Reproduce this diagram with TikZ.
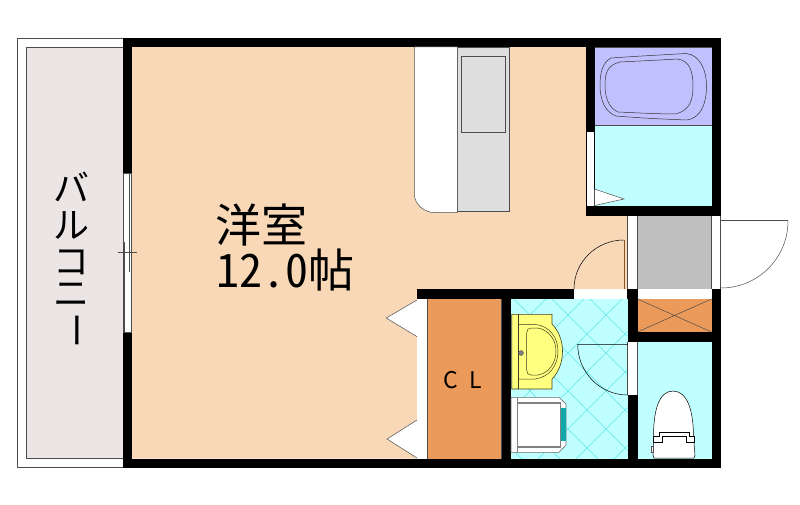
\documentclass[tikz,border=0pt]{standalone}
\usepackage{fontspec}
\newfontfamily\cjk{Noto Sans CJK JP}
\newfontfamily\cjkhw[RawFeature=+hwid]{Noto Sans CJK JP}
\pgfdeclarelayer{suelo}
\pgfsetlayers{suelo, main}
\definecolor{piso}{HTML}{F9D8B8}
\definecolor{agua}{HTML}{BFFFFF}
\definecolor{tina}{HTML}{C0C0FF}
\definecolor{ropero}{HTML}{EB9A5A}
\definecolor{balcon}{HTML}{EBE5E5}
\definecolor{cocina}{HTML}{DEDEDE}
\definecolor{entrada}{HTML}{BFBFBF}
\definecolor{lavabo}{HTML}{FFFF80}
\definecolor{teja}{HTML}{60E8E8}
\definecolor{lavadora}{HTML}{10A8A8}
\tikzstyle{muro}=[fill=black,draw=none]
\tikzstyle{hueco}=[fill=white,draw=none]
\tikzstyle{fino}=[draw=black!70,line width=0.6pt]
\tikzstyle{mueble}=[draw=black,line width=0.5pt]
\tikzstyle{grande}=[inner sep=0pt,font=\cjk\fontsize{46}{46}\selectfont]
\tikzstyle{balconia}=[inner sep=0pt,font=\cjk\fontsize{36}{36}\selectfont]
\begin{document}
\begin{tikzpicture}[x=1pt,y=-1pt]
		\useasboundingbox (0,0) rectangle (800,505);
		\begin{pgfonlayer}{suelo}
			\fill[piso] (132,47)--(586,47)--(586,216)--(627.5,216)--(627.5,289)--(417,289)--(417,458.5)--(132,458.5)--cycle;
			\filldraw[fill=white,fino] (17,38.5) rectangle (123,467.5);
			\filldraw[fill=balcon,fino] (26.7,47.3) rectangle (123,458.3);
			\fill[tina] (595,47) rectangle (711.5,125);
			\fill[agua] (595,125) rectangle (711.5,206);
			\fill[entrada] (637.5,216) rectangle (711.5,289);
			\fill[agua] (511,299) rectangle (627.5,458.5);
			\fill[agua] (637.5,341.5) rectangle (711.5,458.5);
			\fill[ropero] (427.5,299) rectangle (501.5,458.5);
			\fill[ropero] (637.5,299) rectangle (711.5,332);
			\begin{scope}
				\clip (511,299) rectangle (627.5,458.5);
				\foreach \d in {-6,...,8} {
					\draw[teja,line width=0.5pt] (552+\d*38,299)--(712+\d*38,459);
					\draw[teja,line width=0.5pt] (584+\d*38,299)--(424+\d*38,459);
				}
			\end{scope}
		\end{pgfonlayer}
		% muros
		\fill[muro] (123,38) rectangle (721,47);
		\fill[muro] (123,38) rectangle (132,468);
		\fill[muro] (586,47) rectangle (595,216);
		\fill[muro] (711.5,38) rectangle (721,216);
		\fill[muro] (586,206) rectangle (721,216);
		\fill[muro] (123,458.5) rectangle (721,468);
		\fill[muro] (711.5,289) rectangle (721,468);
		\fill[muro] (417,289) rectangle (637.5,299);
		\fill[muro] (501.5,299) rectangle (511,458.5);
		\fill[muro] (627.5,299) rectangle (637.5,458.5);
		\fill[muro] (627.5,332) rectangle (721,341.5);
		% huecos
		\fill[hueco] (123,173.5) rectangle (132,332);
		\fill[hueco] (586.7,132) rectangle (594.5,206);
		\fill[hueco] (627.5,216) rectangle (637.5,289);
		\fill[hueco] (711.5,216) rectangle (720,289);
		\fill[hueco] (574,289) rectangle (627,299);
		\fill[hueco] (637.5,289) rectangle (711.5,299);
		\fill[hueco] (417,299) rectangle (427.5,458.5);
		\fill[hueco] (627.5,341.5) rectangle (637.5,395);
		\draw[fino,line width=0.4pt] (627.5,216)--(627.5,289) (637.5,216)--(637.5,289) (711.5,216)--(711.5,289) (720.5,216)--(720.5,289);
		\draw[fino,line width=0.4pt] (627.5,341.5)--(627.5,395) (637.5,341.5)--(637.5,395);
		\draw[mueble] (594.5,132)--(594.5,206);
		% ventana
		\draw[fino] (123,173.5) rectangle (131.5,332);
		\draw[fino] (129,173.5)--(129,272);
		\draw[fino] (124.7,242)--(124.7,332);
		\draw[fino] (118,252.7)--(137,252.7);
		% cocina
		\filldraw[fill=cocina,fino] (457.3,47)--(509.3,47)--(509.3,211.7)--(457.3,211.7)--cycle;
		\filldraw[fill=white,draw=black!70,line width=0.5pt] (457.3,47)--(414.3,47)--(414.3,195) .. controls (415,205) and (425,212.7) .. (435,212.7)--(457.3,212.7)--cycle;
		\draw[fino] (461.3,56) rectangle (505.3,132.3);
		% banera
		\draw[fino,line width=0.8pt] (595,47.5)--(711.5,47.5);
		\draw[fino,line width=0.8pt] (595,125)--(711.5,125);
		\draw[draw=black!80,line width=0.5pt] (611,58) .. controls (640,56) and (660,55) .. (686,53.5) .. controls (700,55) and (706.5,70) .. (706.5,86) .. controls (706.5,105) and (700,118) .. (687,120) .. controls (660,119) and (640,118) .. (616,116) .. controls (605,112) and (600,100) .. (600,85) .. controls (600,72) and (603,62) .. (611,58)--cycle;
		\draw[draw=black!80,line width=0.5pt] (620,62) .. controls (640,61) and (660,60) .. (678,59) .. controls (690,61) and (693,72) .. (693,86) .. controls (693,100) and (690,110) .. (676,114) .. controls (660,114) and (640,113) .. (618,112) .. controls (609,108) and (605,98) .. (605,85) .. controls (605,72) and (608,65) .. (620,62)--cycle;
		% puertas
		\filldraw[fill=white,fino,line width=0.5pt] (594.5,189)--(624,199)--(594.5,205.5)--cycle;
		\draw[fino,draw=brown!70!black,line width=0.8pt] (624,240)--(624,289);
		\draw[mueble] (624,240) arc (270:180:50 and 49);
		\draw[fino,line width=0.5pt] (721,220.5)--(788,220.5);
		\draw[fino,line width=0.5pt] (788,221) arc (0:90:67 and 67);
		\draw[mueble] (627.5,344.3)--(577.7,344.3) arc (180:90:49.8 and 50.7);
		\filldraw[fill=white,fino,line width=0.5pt] (417,300)--(386.3,318)--(417,336.7);
		\filldraw[fill=white,fino,line width=0.5pt] (417,420)--(387,439)--(417,458);
		\draw[fino] (427.5,299)--(427.5,458.5);
		\draw[fino] (501.5,299)--(501.5,458.5);
		% armario
		\draw[fino,line width=0.5pt] (637.5,299)--(711.5,332) (637.5,332)--(711.5,299);
		% lavabo
		\filldraw[fill=lavabo,draw=black!75!lavabo,line width=0.6pt] (511.7,314.3)--(552,314.3)--(552,324) .. controls (558,330) and (562.5,340) .. (562.5,351) .. controls (562.5,363) and (558,373) .. (552,379)--(552,389)--(511.7,389)--cycle;
		\draw[draw=black!75!lavabo,line width=0.5pt] (518.3,314.3)--(518.3,389);
		\draw[draw=black!75!lavabo,line width=0.5pt] (518.3,324.3)--(535,324.3) .. controls (550,326) and (558,338) .. (558,351) .. controls (558,365) and (550,377) .. (535,379)--(518.3,379);
		\draw[draw=black!75!lavabo,line width=0.5pt] (531,328)--(538,328) .. controls (549,330) and (556,340) .. (556,351) .. controls (556,363) and (549,373) .. (538,375)--(531,375) .. controls (528,375) and (526.7,373) .. (526.7,370)--(526.7,333) .. controls (526.7,330) and (528,328) .. (531,328)--cycle;
		\filldraw[fill=black!50,draw=black!70,line width=0.3pt] (521,353) circle (2.5);
		% lavadora
		\filldraw[fill=white,draw=black!60,line width=0.6pt] (511,397.3)--(559,397.3)--(566,404)--(566,445)--(559,452.3)--(511,452.3)--cycle;
		\draw[draw=black!50,line width=1.2pt] (518,403)--(560.5,403)--(560.5,447)--(518,447);
		\draw[draw=black!50,line width=0.6pt] (517.5,397.3)--(517.5,452.3);
		\fill[lavadora] (560.5,407.7) rectangle (566,441);
		% inodoro
		\filldraw[fill=white,mueble] (653.5,437) .. controls (653.5,410) and (659,391) .. (673,391) .. controls (687,391) and (693.5,410) .. (693.5,437)--(695,455)--(694,458)--(654,458)--(653,455)--cycle;
		\filldraw[fill=white,mueble] (653,436)--(659,436)--(659,432.7)--(689,432.7)--(689,436)--(694.5,436)--(694.5,442)--(686,442)--(686,436)--(662,436)--(662,442)--(653,442)--cycle;
		\filldraw[fill=white,fino,line width=0.4pt] (650.7,446) rectangle (653,451.7);
		% rotulos
		\node (yoshitsu) at (261,225) [grande] {洋室};
		\node (jou) at (285,270.5) [grande] {{\cjkhw 12.0}帖};
		\node (cl) at (462.5,380) [inner sep=0pt,font=\cjk\fontsize{23}{23}\selectfont] {C\hspace{11pt}L};
		\node (ba) at (71,187) [balconia] {バ};
		\node (ru) at (71,225) [balconia] {ル};
		\node (ko) at (71,262) [balconia] {コ};
		\node (ni) at (71,295) [balconia] {ニ};
		\node (chou) at (71,330) [balconia,rotate=-90] {ー};
	\end{tikzpicture}
\end{document}
